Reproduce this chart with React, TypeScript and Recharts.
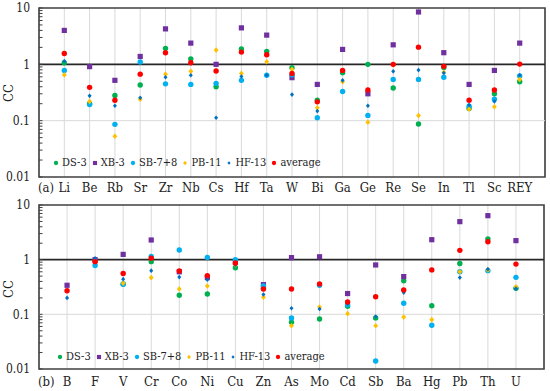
import React from 'react';
import {
  ScatterChart, Scatter, XAxis, YAxis, CartesianGrid, ReferenceLine, ReferenceArea, Legend,
} from 'recharts';

const seriesNames = ['DS-3', 'XB-3', 'SB-7+8', 'PB-11', 'HF-13', 'average'];
const seriesColors = ['#00B050', '#7030A0', '#00B0F0', '#FFC000', '#0070C0', '#FF0000'];
const seriesShapes = ['circle', 'square', 'circle', 'diamond', 'smalldiamond', 'circle'];

const majorTicks = [0.01, 0.1, 1, 10];
const minorTicks = [
  0.02, 0.03, 0.04, 0.05, 0.06, 0.07, 0.08, 0.09,
  0.2, 0.3, 0.4, 0.5, 0.6, 0.7, 0.8, 0.9,
  2, 3, 4, 5, 6, 7, 8, 9,
];

// Panel (a)
const catsA = ['Li', 'Be', 'Rb', 'Sr', 'Zr', 'Nb', 'Cs', 'Hf', 'Ta', 'W', 'Bi', 'Ga', 'Ge', 'Re', 'Se', 'In', 'Tl', 'Sc', 'REY'];
const dsA = [1.07, 0.2, 0.28, 0.43, 1.92, 1.24, 0.4, 1.87, 1.7, 0.87, 0.23, 0.71, 1.0, 0.38, 0.087, 0.88, 0.165, 0.3, 0.49];
const xbA = [4.0, 0.91, 0.52, 1.38, 4.26, 2.38, 1.0, 4.44, 3.3, 0.58, 0.44, 1.84, 0.3, 2.22, 8.5, 1.61, 0.44, 0.78, 2.38];
const sbA = [0.78, 0.194, 0.086, 1.1, 0.45, 0.44, 0.46, 0.52, 0.64, 0.65, 0.113, 0.33, 0.124, 0.54, 0.54, 0.59, 0.18, 0.24, 0.62];
const pbA = [0.65, 0.22, 0.053, 0.24, 0.67, 0.75, 1.79, 0.69, 1.11, 0.82, 0.17, 0.49, 0.094, 0.98, 0.123, 0.72, 0.159, 0.177, 0.54];
const hfA = [1.14, 0.276, 0.184, 0.255, 0.59, 0.64, 0.113, 0.61, 0.64, 0.29, 0.148, 0.52, 0.184, 0.75, 0.79, 0.7, 0.19, 0.22, 0.64];
const avgA = [1.56, 0.39, 0.23, 0.67, 1.61, 1.07, 0.76, 1.65, 1.48, 0.69, 0.216, 0.78, 0.35, 1.0, 2.02, 0.92, 0.23, 0.35, 1.01];

// Panel (b)
const catsB = ['B', 'F', 'V', 'Cr', 'Co', 'Ni', 'Cu', 'Zn', 'As', 'Mo', 'Cd', 'Sb', 'Ba', 'Hg', 'Pb', 'Th', 'U'];
const dsB = [null, 0.95, 0.36, 0.92, 0.223, 0.235, 0.71, 0.3, 0.072, 0.082, 0.14, 0.086, 0.41, 0.144, 0.85, 2.39, 0.3];
const xbB = [0.34, 1.0, 1.25, 2.29, 0.6, 0.47, 0.9, 0.35, 1.09, 1.13, 0.24, 0.8, 0.49, 2.32, 4.96, 6.38, 2.23];
const sbB = [null, 0.78, 0.354, 1.15, 1.5, 1.1, 1.0, 0.33, 0.086, 0.34, 0.15, 0.014, 0.159, 0.063, 0.6, 0.63, 0.475];
const pbB = [null, 0.95, 0.37, 0.47, 0.29, 0.33, 0.8, 0.205, 0.062, 0.136, 0.103, 0.062, 0.089, 0.08, 0.6, 0.65, 0.32];
const hfB = [0.2, 1.06, 0.44, 0.63, 0.48, 0.43, 0.8, 0.23, 0.129, 0.125, 0.157, 0.091, 0.25, null, 0.47, 0.67, 0.295];
const avgB = [0.27, 0.92, 0.56, 1.06, 0.62, 0.51, 0.87, 0.29, 0.29, 0.36, 0.168, 0.21, 0.28, 0.65, 1.48, 2.13, 0.83];

const FONT = '"DejaVu Serif Condensed", "Liberation Serif", "DejaVu Serif", serif';

function Marker({ cx, cy, shape, color, s = 1 }: any) {
  if (cx == null || cy == null) return null;
  if (shape === 'square') return <rect x={cx - 2.6 * s} y={cy - 2.6 * s} width={5.2 * s} height={5.2 * s} fill={color} />;
  if (shape === 'diamond') return <polygon points={`${cx},${cy - 2.8 * s} ${cx + 2.4 * s},${cy} ${cx},${cy + 2.8 * s} ${cx - 2.4 * s},${cy}`} fill={color} />;
  if (shape === 'smalldiamond') return <polygon points={`${cx},${cy - 2.3 * s} ${cx + 2 * s},${cy} ${cx},${cy + 2.3 * s} ${cx - 2 * s},${cy}`} fill={color} />;
  return <circle cx={cx} cy={cy} r={2.7 * s} fill={color} />;
}

function YTick(props: any) {
  const { x, y, payload } = props;
  const v = payload.value;
  const isMajor = majorTicks.some((m) => Math.abs(m - v) < 1e-9);
  const ax = x + 9;
  return (
    <g>
      <line x1={ax} x2={ax + 3.5} y1={y} y2={y} stroke="#404040" strokeWidth={1} />
      {isMajor && (
        <text x={x} y={y} dy="0.35em" textAnchor="end" fontSize={12} fontFamily={FONT} fill="#222">
          {String(v)}
        </text>
      )}
    </g>
  );
}

function LegendContent() {
  return (
    <div style={{ display: 'flex', alignItems: 'center', height: 16, fontFamily: FONT, fontSize: 11, color: '#222', whiteSpace: 'nowrap' }}>
      {seriesNames.map((n, k) => (
        <div key={n} style={{ display: 'flex', alignItems: 'center', lineHeight: '16px', marginRight: 5 }}>
          <svg width={6} height={8} style={{ marginRight: 3 }}>
            <Marker cx={3} cy={4} shape={seriesShapes[k]} color={seriesColors[k]} s={0.8} />
          </svg>
          <span>{n}</span>
        </div>
      ))}
    </div>
  );
}

function Panel({ cats, series, height, marginTop, marginRight, xHeight, tickMargin, legendLeft, legendTop }: any) {
  const n = cats.length;
  const idx = cats.map((_: string, i: number) => i);
  return (
    <ScatterChart width={550} height={height} margin={{ top: marginTop, right: marginRight, bottom: 0, left: 0 }}>
      <CartesianGrid horizontal={false} vertical stroke="#d9d9d9" strokeWidth={1} />
      <XAxis
        type="number"
        dataKey="i"
        domain={[-1, n]}
        ticks={idx}
        interval={0}
        tickFormatter={(i: number) => cats[i] ?? ''}
        tickLine={false}
        axisLine={false}
        tickSize={0}
        tickMargin={tickMargin}
        height={xHeight}
        tick={{ fontFamily: FONT, fontSize: 13, fill: '#222' }}
        allowDataOverflow
      />
      <YAxis
        type="number"
        dataKey="v"
        scale="log"
        domain={[0.01, 10]}
        ticks={[...majorTicks, ...minorTicks].sort((a, b) => a - b)}
        interval={0}
        allowDataOverflow
        width={39}
        axisLine={false}
        tickLine={false}
        tickSize={0}
        tickMargin={9}
        tick={<YTick />}
      />
      <ReferenceLine y={0.1} stroke="#d9d9d9" strokeWidth={1} />
      <ReferenceLine y={1} stroke="#262626" strokeWidth={1.6} />
      <ReferenceArea x1={-1} x2={n} y1={0.01} y2={10} fill="none" stroke="#404040" strokeWidth={1.6} />
      {series.map((vals: (number | null)[], k: number) => {
        const data = vals
          .map((v, i) => ({ i, v }))
          .filter((d) => d.v != null);
        return (
          <Scatter
            key={seriesNames[k]}
            name={seriesNames[k]}
            data={data}
            fill={seriesColors[k]}
            isAnimationActive={false}
            shape={(p: any) => <Marker cx={p.cx} cy={p.cy} shape={seriesShapes[k]} color={seriesColors[k]} />}
          />
        );
      })}
      <Legend
        verticalAlign="middle"
        layout="horizontal"
        wrapperStyle={{ left: legendLeft, top: legendTop, width: 320, height: 16 }}
        content={() => <LegendContent />}
      />
    </ScatterChart>
  );
}

export default function App() {
  return (
    <div style={{ position: 'absolute', left: 0, top: 0, width: 550, height: 391, background: '#fff', overflow: 'hidden' }}>
      <div style={{ position: 'absolute', left: 0, top: 0 }}>
        <Panel
          cats={catsA}
          series={[dsA, xbA, sbA, pbA, hfA, avgA]}
          height={195}
          marginTop={8}
          marginRight={5}
          xHeight={18}
          tickMargin={6}
          legendLeft={53}
          legendTop={155}
        />
      </div>
      <div style={{ position: 'absolute', left: 0, top: 195 }}>
        <Panel
          cats={catsB}
          series={[dsB, xbB, sbB, pbB, hfB, avgB]}
          height={196}
          marginTop={10}
          marginRight={6}
          xHeight={22}
          tickMargin={8}
          legendLeft={57}
          legendTop={154}
        />
      </div>
      <div style={{ position: 'absolute', left: 38, top: 180, fontFamily: FONT, fontSize: 13, lineHeight: '15px', color: '#222' }}>(a)</div>
      <div style={{ position: 'absolute', left: 38, top: 374, fontFamily: FONT, fontSize: 13, lineHeight: '15px', color: '#222' }}>(b)</div>
      <div style={{ position: 'absolute', left: -6, top: 85, width: 30, height: 16, textAlign: 'center', lineHeight: '16px', transform: 'rotate(-90deg)', fontFamily: FONT, fontSize: 13, color: '#222' }}>CC</div>
      <div style={{ position: 'absolute', left: -6, top: 281, width: 30, height: 16, textAlign: 'center', lineHeight: '16px', transform: 'rotate(-90deg)', fontFamily: FONT, fontSize: 13, color: '#222' }}>CC</div>
    </div>
  );
}
